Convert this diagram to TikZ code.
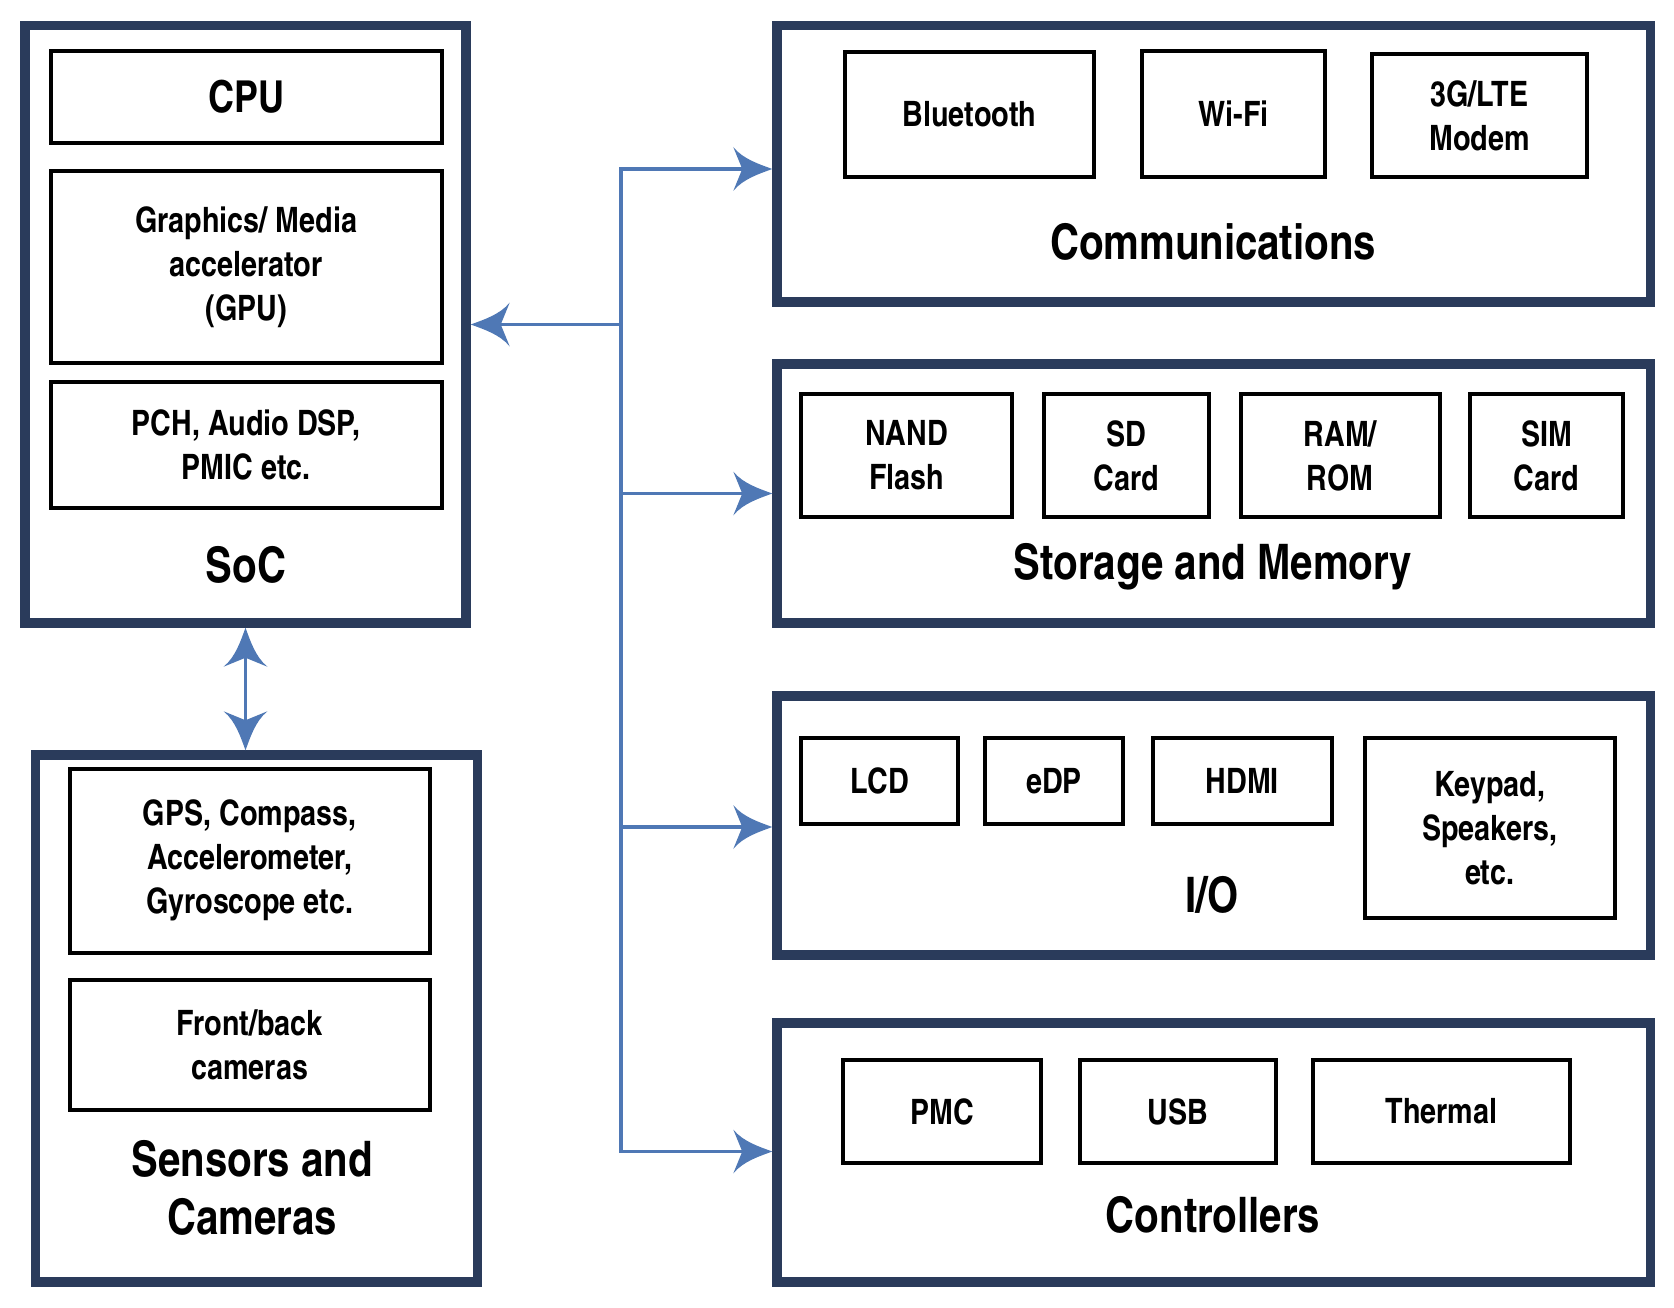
\documentclass[tikz,border=0pt]{standalone}
\usepackage{fontspec}
\setmainfont{texgyreheroscn-bold.otf}
\usetikzlibrary{arrows.meta}
\definecolor{navy}{HTML}{2A3B5B}
\definecolor{bluearr}{HTML}{4F78B5}
\pgfdeclarearrow{
  name=Fancy,
  defaults={length=39pt,width=44pt,inset=9pt},
  parameters={\the\pgfarrowlength,\the\pgfarrowwidth,\the\pgfarrowinset},
  setup code={
    \pgfarrowssettipend{0pt}
    \pgfarrowssetbackend{-\pgfarrowlength}
    \pgfarrowssetlineend{-0.5\pgfarrowlength}
    \pgfarrowsupperhullpoint{-\pgfarrowlength}{0.5\pgfarrowwidth}
    \pgfarrowshullpoint{0pt}{0pt}
  },
  drawing code={
    \pgfpathmoveto{\pgfpointorigin}
    \pgfpathcurveto{\pgfpoint{-0.3\pgfarrowlength}{0.1\pgfarrowwidth}}
                   {\pgfpoint{-0.75\pgfarrowlength}{0.22\pgfarrowwidth}}
                   {\pgfpoint{-\pgfarrowlength}{0.5\pgfarrowwidth}}
    \pgfpathlineto{\pgfpoint{-\pgfarrowlength+\pgfarrowinset}{0pt}}
    \pgfpathlineto{\pgfpoint{-\pgfarrowlength}{-0.5\pgfarrowwidth}}
    \pgfpathcurveto{\pgfpoint{-0.75\pgfarrowlength}{-0.22\pgfarrowwidth}}
                   {\pgfpoint{-0.3\pgfarrowlength}{-0.1\pgfarrowwidth}}
                   {\pgfpointorigin}
    \pgfpathclose
    \pgfusepathqfill
  }
}
\tikzset{
  outerbox/.style={draw=navy,line width=9.5pt,fill=white,inner sep=0pt},
  innerbox/.style={draw=black,line width=4pt,inner sep=0pt,align=center,
    font=\fontsize{35}{44}\selectfont},
  biglabel/.style={inner sep=0pt,align=center,font=\fontsize{49}{58}\selectfont},
  bus/.style={draw=bluearr,line width=3.5pt},
  tip/.style={-{Fancy[length=39pt,width=44pt,inset=9pt]},bluearr},
  twotip/.style={{Fancy[length=39pt,width=44pt,inset=9pt]}-{Fancy[length=39pt,width=44pt,inset=9pt]},bluearr},
}
\begin{document}
\begin{tikzpicture}[x=1pt,y=-1pt]
\fill[white] (0,0) rectangle (1674,1308);
\useasboundingbox (0,0) rectangle (1674,1308);

% SoC
\node[outerbox,minimum width=441pt,minimum height=597.5pt] (soc) at (245.5,324.25) {};
\node[innerbox,minimum width=390.5pt,minimum height=92pt,font=\fontsize{44}{50}\selectfont] (cpu) at (246.25,97) {CPU};
\node[innerbox,minimum width=390.5pt,minimum height=191pt] (gpu) at (246.25,267) {Graphics/ Media\\accelerator\\(GPU)};
\node[innerbox,minimum width=390.5pt,minimum height=126pt] (pch) at (246.25,445) {PCH, Audio DSP,\\PMIC etc.};
\node[biglabel] (soclbl) at (246,565) {SoC};

% Sensors
\node[outerbox,minimum width=442pt,minimum height=527pt] (sens) at (256.5,1018.5) {};
\node[innerbox,minimum width=359.5pt,minimum height=184.5pt] (gps) at (249.75,860.75) {GPS, Compass,\\Accelerometer,\\Gyroscope etc.};
\node[innerbox,minimum width=359.5pt,minimum height=130pt] (front) at (249.75,1044.5) {Front/back\\cameras};
\node[biglabel] (senslbl) at (252,1188) {Sensors and\\Cameras};

% Communications
\node[outerbox,minimum width=873.5pt,minimum height=276.5pt] (comm) at (1213.75,163.75) {};
\node[innerbox,minimum width=249pt,minimum height=125pt] (bt) at (969.5,114.5) {Bluetooth};
\node[innerbox,minimum width=183pt,minimum height=126pt] (wifi) at (1233.5,114) {Wi-Fi};
\node[innerbox,minimum width=215pt,minimum height=123pt] (lte) at (1479.5,115.5) {3G/LTE\\Modem};
\node[biglabel] (commlbl) at (1213,242) {Communications};

% Storage
\node[outerbox,minimum width=873.5pt,minimum height=259pt] (stor) at (1213.75,493.5) {};
\node[innerbox,minimum width=211pt,minimum height=123pt] (nand) at (906.5,455.5) {NAND\\Flash};
\node[innerbox,minimum width=165.5pt,minimum height=123pt] (sd) at (1126.25,455.5) {SD\\Card};
\node[innerbox,minimum width=199.5pt,minimum height=123pt] (ram) at (1340.25,455.5) {RAM/\\ROM};
\node[innerbox,minimum width=153pt,minimum height=123pt] (sim) at (1546.5,455.5) {SIM\\Card};
\node[biglabel] (storlbl) at (1213,567) {Storage and Memory};

% I/O
\node[outerbox,minimum width=873.5pt,minimum height=259pt] (io) at (1213.75,825.5) {};
\node[innerbox,minimum width=157pt,minimum height=86pt] (lcd) at (879.5,781) {LCD};
\node[innerbox,minimum width=138pt,minimum height=86pt] (edp) at (1054,781) {eDP};
\node[innerbox,minimum width=178.5pt,minimum height=86pt] (hdmi) at (1242.25,781) {HDMI};
\node[innerbox,minimum width=249.5pt,minimum height=180pt] (key) at (1489.75,828) {Keypad,\\Speakers,\\etc.};
\node[biglabel] (iolbl) at (1212,895) {I/O};

% Controllers
\node[outerbox,minimum width=873.5pt,minimum height=259pt] (ctrl) at (1213.75,1152.5) {};
\node[innerbox,minimum width=198pt,minimum height=103pt] (pmc) at (942,1111.5) {PMC};
\node[innerbox,minimum width=195.5pt,minimum height=103pt] (usb) at (1177.75,1111.5) {USB};
\node[innerbox,minimum width=257pt,minimum height=103pt] (therm) at (1441.5,1111.5) {Thermal};
\node[biglabel] (ctrllbl) at (1213,1215) {Controllers};

% bus
\coordinate (j1) at (621,169);
\coordinate (j0) at (621,324.5);
\coordinate (j2) at (621,493.5);
\coordinate (j3) at (621,827);
\coordinate (j4) at (621,1151.5);

\draw[bus,twotip] (j1 -| comm.west) -- (j1) -- (j4) -- (j4 -| ctrl.west);
\draw[bus,tip] (j0) -- (j0 -| soc.east);
\draw[bus,tip] (j2) -- (j2 -| stor.west);
\draw[bus,tip] (j3) -- (j3 -| io.west);
\draw[bus,twotip] (soc.south) -- (soc.south |- sens.north);
\end{tikzpicture}
\end{document}
